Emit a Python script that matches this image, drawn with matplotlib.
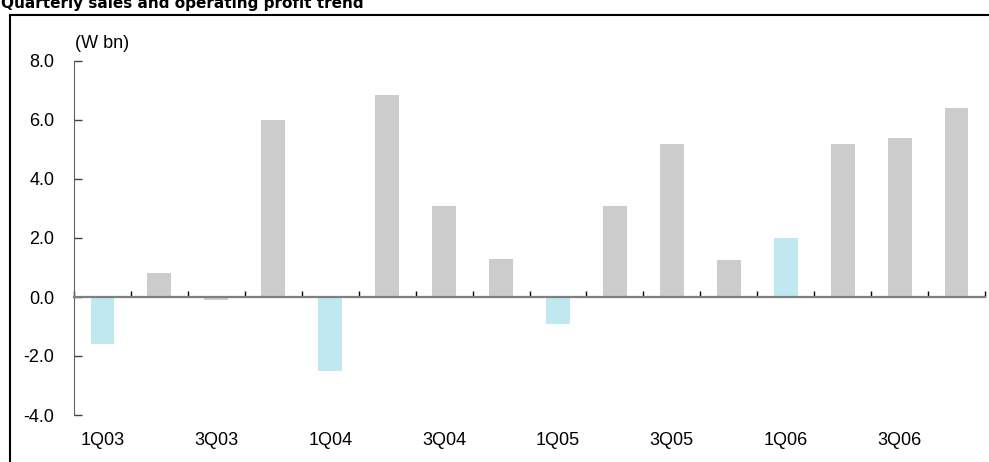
import matplotlib.pyplot as plt
import matplotlib.patches as patches
import numpy as np

plt.rcParams["font.family"] = ["Liberation Sans", "DejaVu Sans"]

quarters = ["1Q03", "2Q03", "3Q03", "4Q03",
            "1Q04", "2Q04", "3Q04", "4Q04",
            "1Q05", "2Q05", "3Q05", "4Q05",
            "1Q06", "2Q06", "3Q06", "4Q06"]
profit = [-1.6, 0.8, -0.1, 6.0,
          -2.5, 6.85, 3.1, 1.3,
          -0.9, 3.1, 5.2, 1.25,
          2.0, 5.2, 5.4, 6.4]
labels = ["1Q03", "", "3Q03", "", "1Q04", "", "3Q04", "",
          "1Q05", "", "3Q05", "", "1Q06", "", "3Q06", ""]
yticks = [-4.0, -2.0, 0.0, 2.0, 4.0, 6.0, 8.0]

GREY = "#cccccc"
BLUE = "#c0e8f0"
colors = [BLUE if q.startswith("1Q") else GREY for q in quarters]

fig = plt.figure(figsize=(9.89, 4.62), dpi=100)
ax = fig.add_axes([74/989, 1 - 415/462, 911/989, 354/462])

x = np.arange(len(quarters)) + 0.5
ax.bar(x, profit, width=0.42, color=colors, zorder=2)

ax.set_xlim(0, len(quarters))
ax.set_ylim(-4, 8)
ax.set_yticks(yticks)
ax.set_yticklabels([f"{v:.1f}" for v in yticks], fontsize=13)
ax.tick_params(axis="y", direction="in", length=6, width=1, color="#404040", pad=14)

# category boundaries ticked on the zero line
ax.spines["bottom"].set_position(("data", 0))
ax.spines["bottom"].set_color("#7f7f7f")
ax.spines["bottom"].set_linewidth(1.6)
ax.spines["bottom"].set_zorder(3)
ax.set_xticks(np.arange(len(quarters) + 1))
ax.set_xticklabels([])
ax.tick_params(axis="x", direction="in", length=4, width=1, color="black")
ax.spines["left"].set_color("#606060")
ax.spines["top"].set_visible(False)
ax.spines["right"].set_visible(False)

# quarter labels along the bottom
sec = ax.secondary_xaxis(0.0)
sec.set_xticks(x)
sec.set_xticklabels(labels, fontsize=13)
sec.tick_params(length=0, pad=12)
sec.spines["bottom"].set_visible(False)

fig.text(102/989, 1 - 44/462, "(W bn)", ha="center", va="center", fontsize=13)

fig.text(1/989, 1 - 8/462, "Quarterly sales and operating profit trend",
         family="DejaVu Sans", fontweight="bold", fontsize=11,
         ha="left", va="baseline")

fig.add_artist(patches.Rectangle((10/989, -0.05), 1.0, 0.05 + 1 - 15/462,
                                 transform=fig.transFigure, fill=False,
                                 edgecolor="black", linewidth=1.5))

fig.savefig("out.png", dpi=100)
